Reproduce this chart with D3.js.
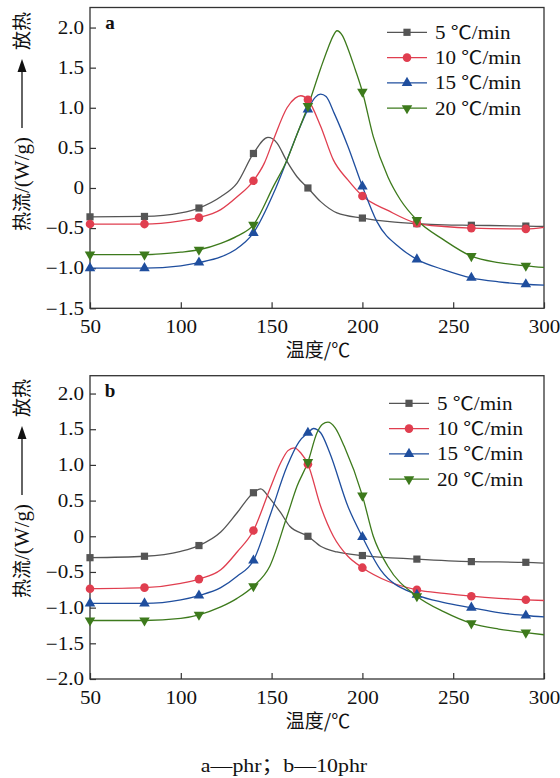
<!DOCTYPE html>
<html>
<head>
<meta charset="utf-8">
<script src="https://cdn.jsdelivr.net/npm/d3@7"></script>
<style>
  body { margin: 0; background: #fff; }
  svg { display: block; }
  .serif { font-family: "Liberation Serif", "Times New Roman", "Noto Sans CJK SC", serif; }
  .cjk { font-family: "Noto Sans CJK SC", "Liberation Serif", sans-serif; }
</style>
</head>
<body>
<svg id="chart" width="560" height="778"></svg>
<script>
// Series names, colours and marker shapes
const rates = ["5 ℃/min", "10 ℃/min", "15 ℃/min", "20 ℃/min"];
const colors = ["#555555", "#e03e4f", "#1f4e9e", "#3d7a1c"];
const shapes = ["square", "circle", "up", "down"];

// Temperatures that carry a marker
const markerTemps = [50, 80, 110, 140, 170, 200, 230, 260, 290];

// Tick values and labels
const xTicks = [50, 100, 150, 200, 250, 300];
const yTicksA = [-1.5, -1.0, -0.5, 0, 0.5, 1.0, 1.5, 2.0];
const yLabelsA = ["−1.5", "−1.0", "−0.5", "0", "0.5", "1.0", "1.5", "2.0"];
const yTicksB = [-2.0, -1.5, -1.0, -0.5, 0, 0.5, 1.0, 1.5, 2.0];
const yLabelsB = ["−2.0", "−1.5", "−1.0", "−0.5", "0", "0.5", "1.0", "1.5", "2.0"];

// Panel a (phr): heat flow [temperature ℃, W/g]
const a5 = [[50,-0.36],[80,-0.355],[100,-0.31],[110,-0.25],[122,-0.11],[131,0.06],[140,0.43],[148,0.63],
  [153,0.56],[158,0.35],[164,0.14],[170,0.0],[177,-0.17],[186,-0.31],[200,-0.375],[215,-0.42],[230,-0.445],
  [245,-0.46],[260,-0.465],[290,-0.475],[300,-0.48]];
const a10 = [[50,-0.45],[80,-0.45],[100,-0.41],[110,-0.37],[122,-0.27],[131,-0.11],[140,0.09],[146,0.31],
  [151,0.6],[158.5,1.0],[163,1.12],[166,1.15],[170,1.1],[177,0.77],[184,0.35],[192,0.1],[200,-0.1],
  [214,-0.28],[230,-0.44],[245,-0.48],[260,-0.5],[290,-0.51],[300,-0.49]];
const a15 = [[50,-1.0],[80,-1.0],[100,-0.97],[110,-0.93],[122,-0.86],[130,-0.77],[140,-0.56],[151,-0.07],
  [158.5,0.35],[164,0.67],[170,0.98],[174,1.13],[177,1.17],[180,1.14],[184.5,0.93],[192,0.52],[200,0.02],
  [208,-0.42],[221,-0.75],[230,-0.89],[245,-1.02],[260,-1.12],[275,-1.17],[290,-1.2],[300,-1.21]];
const a20 = [[50,-0.83],[80,-0.83],[100,-0.8],[110,-0.77],[122,-0.69],[131,-0.6],[140,-0.46],[151,0.02],
  [158.5,0.35],[164,0.67],[170,1.02],[177,1.49],[181,1.74],[184,1.9],[186,1.96],[189,1.9],[192,1.74],
  [196,1.48],[200,1.2],[206,0.64],[214,0.14],[221,-0.15],[230,-0.4],[245,-0.65],[260,-0.85],[275,-0.93],
  [290,-0.97],[300,-0.99]];

// Panel b (10phr): heat flow [temperature ℃, W/g]
const b5 = [[50,-0.3],[80,-0.28],[100,-0.21],[110,-0.13],[122,0.06],[131,0.33],[140,0.61],[144,0.665],
  [149,0.53],[155,0.33],[160,0.14],[170,0.0],[177,-0.14],[186,-0.22],[200,-0.27],[230,-0.32],[260,-0.355],
  [290,-0.365],[300,-0.375]];
const b10 = [[50,-0.735],[80,-0.72],[100,-0.66],[110,-0.6],[122,-0.47],[131,-0.22],[140,0.08],[149,0.66],
  [155,1.03],[159,1.2],[162.5,1.24],[166,1.17],[170,1.01],[177,0.42],[184,0.0],[192,-0.28],[200,-0.44],
  [214,-0.63],[230,-0.75],[245,-0.8],[260,-0.84],[275,-0.87],[290,-0.89],[300,-0.9]];
const b15 = [[50,-0.94],[80,-0.94],[100,-0.89],[110,-0.83],[122,-0.72],[131,-0.56],[140,-0.34],[149,0.28],
  [158.5,0.98],[165,1.32],[170,1.45],[173,1.51],[177,1.45],[182,1.17],[192,0.42],[200,-0.01],[210,-0.47],
  [230,-0.82],[245,-0.93],[260,-1.0],[275,-1.07],[290,-1.11],[300,-1.13]];
const b20 = [[50,-1.18],[80,-1.18],[100,-1.15],[110,-1.1],[122,-0.99],[131,-0.87],[140,-0.7],[149,-0.42],
  [158.5,0.28],[164,0.7],[170,1.04],[175,1.45],[178,1.57],[181,1.6],[185,1.52],[190,1.26],[200,0.57],
  [206,0.0],[214,-0.42],[230,-0.84],[245,-1.06],[260,-1.22],[275,-1.3],[290,-1.35],[300,-1.38]];

const panels = [
  { letter: "a", series: [a5, a10, a15, a20], yTicks: yTicksA, yLabels: yLabelsA, yDomain: [-1.5, 2.25],
    top: 7.5, bottom: 308.3, legendX: 387, legendY: 32.3, labelTop: 5 },
  { letter: "b", series: [b5, b10, b15, b20], yTicks: yTicksB, yLabels: yLabelsB, yDomain: [-2.0, 2.25],
    top: 375.7, bottom: 679, legendX: 389, legendY: 403.3, labelTop: 372 }
];

const svg = d3.select("#chart");
const left = 90, right = 544;
const x = d3.scaleLinear().domain([50, 300]).range([left, right]);

// the serif text is set slightly wide
function widen(sel, k) {
  sel.each(function () {
    const w = this.getComputedTextLength();
    d3.select(this).attr("textLength", w * k).attr("lengthAdjust", "spacingAndGlyphs");
  });
}

function drawMarker(g, shape, cx, cy, color) {
  if (shape === "square") {
    g.append("rect").attr("x", cx - 3.6).attr("y", cy - 3.6).attr("width", 7.2).attr("height", 7.2)
      .attr("fill", color);
  } else if (shape === "circle") {
    g.append("circle").attr("cx", cx).attr("cy", cy).attr("r", 4.3).attr("fill", color);
  } else {
    const sym = d3.symbol().type(d3.symbolTriangle).size(48);
    g.append("path").attr("d", sym())
      .attr("transform", `translate(${cx},${cy})` + (shape === "down" ? " rotate(180)" : ""))
      .attr("fill", color);
  }
}

panels.forEach(p => {
  const y = d3.scaleLinear().domain(p.yDomain).range([p.bottom, p.top]);
  const g = svg.append("g");

  // axes with inward ticks
  const xAxis = d3.axisBottom(x).tickValues(xTicks).tickSizeInner(-6).tickSizeOuter(0).tickPadding(12);
  const gx = g.append("g").attr("transform", `translate(0,${p.bottom})`).call(xAxis);
  const yAxis = d3.axisLeft(y).tickValues(p.yTicks).tickFormat((d, i) => p.yLabels[i])
    .tickSizeInner(-6).tickSizeOuter(0).tickPadding(6);
  const gy = g.append("g").attr("transform", `translate(${left},0)`).call(yAxis);
  [gx, gy].forEach(ax => {
    ax.select(".domain").remove();
    ax.selectAll(".tick line").attr("stroke", "#333").attr("stroke-width", 1.2);
    ax.selectAll(".tick text").attr("class", "serif").attr("font-size", 18).attr("fill", "#111")
      .call(widen, 1.17);
  });

  // frame
  g.append("rect").attr("x", left).attr("y", p.top).attr("width", right - left).attr("height", p.bottom - p.top)
    .attr("fill", "none").attr("stroke", "#333").attr("stroke-width", 1.3);

  // curves
  const line = d3.line().x(d => x(d[0])).y(d => y(d[1])).curve(d3.curveMonotoneX);
  p.series.forEach((s, i) => {
    g.append("path").attr("d", line(s)).attr("fill", "none").attr("stroke", colors[i]).attr("stroke-width", 1.3);
  });
  // markers
  p.series.forEach((s, i) => {
    s.filter(d => markerTemps.includes(d[0])).forEach(d => drawMarker(g, shapes[i], x(d[0]), y(d[1]), colors[i]));
  });

  // legend
  rates.forEach((r, i) => {
    const ly = p.legendY + i * 25.3;
    g.append("line").attr("x1", p.legendX).attr("x2", p.legendX + 40).attr("y1", ly).attr("y2", ly)
      .attr("stroke", colors[i]).attr("stroke-width", 1.3);
    drawMarker(g, shapes[i], p.legendX + 20, ly, colors[i]);
    g.append("text").attr("class", "serif").attr("x", p.legendX + 48).attr("y", ly).attr("dy", "0.35em")
      .attr("font-size", 18).attr("fill", "#111").text(r).call(widen, 1.17);
  });

  // panel letter
  g.append("text").attr("class", "serif").attr("x", left + 20).attr("y", p.top + 21)
    .attr("text-anchor", "middle").attr("font-size", 19).attr("font-weight", "bold").attr("fill", "#111")
    .text(p.letter);

  // x axis title
  g.append("text").attr("class", "cjk").attr("x", 318).attr("y", p.bottom + 49).attr("text-anchor", "middle")
    .attr("font-size", 19).attr("fill", "#111").text("温度/℃");

  // y axis title: 热流/(W/g) ——→ 放热
  const ax = 22;
  const t0 = p.labelTop;
  const yt = g.append("text").attr("class", "cjk").attr("transform", `translate(${ax},${t0 + 226}) rotate(-90)`)
    .attr("dy", "0.35em").attr("font-size", 19).attr("fill", "#111");
  yt.append("tspan").text("热流");
  yt.append("tspan").attr("class", "serif").attr("font-size", 21).text("/(W/g)");
  g.append("line").attr("x1", ax).attr("x2", ax).attr("y1", t0 + 123).attr("y2", t0 + 64)
    .attr("stroke", "#111").attr("stroke-width", 1.3);
  g.append("path").attr("d", `M${ax},${t0 + 54}L${ax - 4.5},${t0 + 67}L${ax + 4.5},${t0 + 67}Z`).attr("fill", "#111");
  g.append("text").attr("class", "cjk").attr("transform", `translate(${ax},${t0 + 45}) rotate(-90)`)
    .attr("dy", "0.35em").attr("font-size", 19).attr("fill", "#111").text("放热");
});

// caption
svg.append("text").attr("class", "serif").attr("x", 284).attr("y", 772).attr("text-anchor", "middle")
  .attr("font-size", 19).attr("fill", "#111").text("a—phr；b—10phr").call(widen, 1.15);
</script>
</body>
</html>
